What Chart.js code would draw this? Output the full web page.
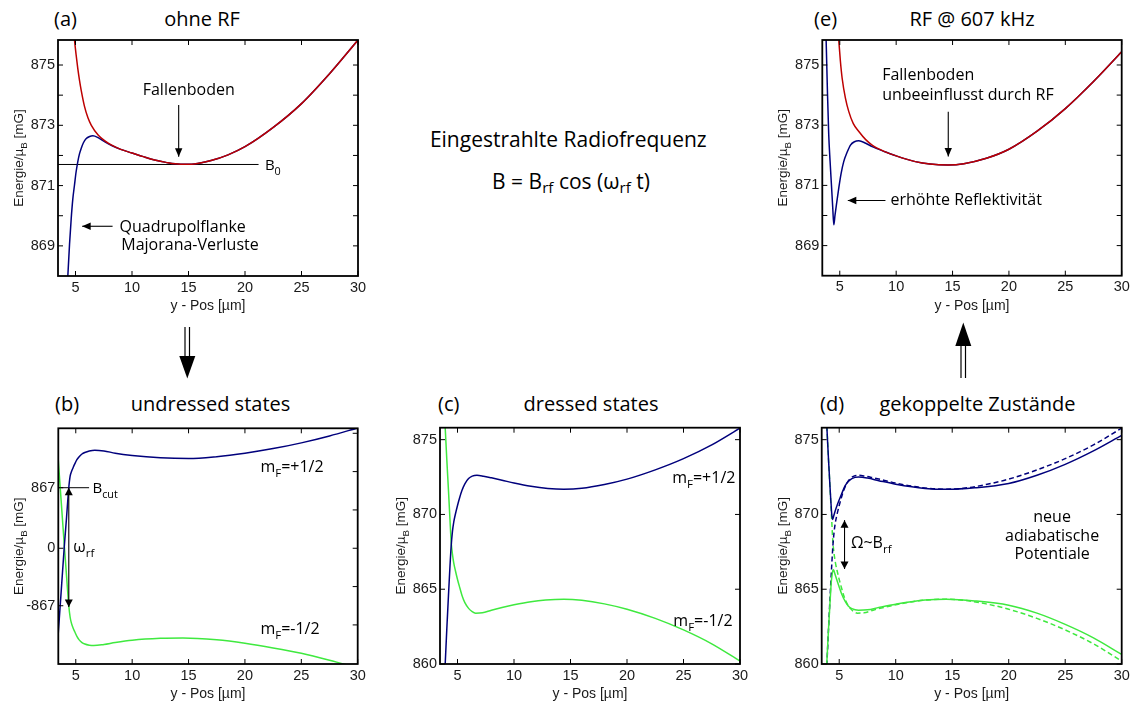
<!DOCTYPE html>
<html><head><meta charset="utf-8">
<script src="https://cdn.jsdelivr.net/npm/chart.js@4.4.0/dist/chart.umd.min.js"></script>
<style>
body{margin:0;width:1133px;height:702px;background:#fff;position:relative;overflow:hidden;font-family:'Open Sans','Noto Sans',sans-serif;color:#000;}
canvas{position:absolute;}
.t{position:absolute;white-space:nowrap;line-height:1;font-size:20px;}
.c{transform:translateX(-50%);}
.sb{font-size:0.72em;position:relative;top:0.28em;}
svg{position:absolute;left:0;top:0;}
</style></head><body>
<div class="t" style="left:54px;top:8.7px">(a)</div>
<div class="t c" style="left:202px;top:8.7px">ohne RF</div>
<div class="t" style="left:814px;top:8.7px">(e)</div>
<div class="t c" style="left:972px;top:8.7px">RF @ 607 kHz</div>
<div class="t" style="left:55px;top:393.7px">(b)</div>
<div class="t c" style="left:210.5px;top:393.7px">undressed states</div>
<div class="t" style="left:438px;top:393.7px">(c)</div>
<div class="t c" style="left:591px;top:393.7px">dressed states</div>
<div class="t" style="left:820px;top:393.7px">(d)</div>
<div class="t c" style="left:977.5px;top:393.7px">gekoppelte Zustände</div>
<div class="t c" style="left:568.3px;top:129px;font-size:21px">Eingestrahlte Radiofrequenz</div>
<div class="t c" style="left:571px;top:170.7px;font-size:21px">B = B<span class="sb">rf</span> cos (ω<span class="sb">rf</span> t)</div>
<svg width="1133" height="702">
<line x1="185" y1="327" x2="185" y2="358" stroke="#000" stroke-width="1.2"/>
<line x1="189.5" y1="327" x2="189.5" y2="358" stroke="#000" stroke-width="1.2"/>
<polygon points="179.3,356 195.3,356 187.3,378.5" fill="#000"/>
<line x1="961" y1="378" x2="961" y2="344" stroke="#000" stroke-width="1.2"/>
<line x1="965.5" y1="378" x2="965.5" y2="344" stroke="#000" stroke-width="1.2"/>
<polygon points="955.3,346 971.3,346 963.3,322.5" fill="#000"/>
</svg>
<script>
// ---------- data ----------
const xTickVals = [5, 10, 15, 20, 25, 30];
const xMin = 3.45, xMax = 30;

// (a) ohne RF
const aRedX = [4.80, 4.91, 5.05, 5.20, 5.35, 5.50, 5.80, 6.10, 6.40, 7.00, 7.60, 8.20];
const aRedY = [876.30, 875.83, 875.35, 874.89, 874.50, 874.17, 873.62, 873.25, 873.00, 872.68, 872.48, 872.34];
const aBlueX = [4.20, 4.32, 4.47, 4.62, 4.76, 4.91, 5.05, 5.20, 5.35, 5.50, 5.70, 5.95, 6.25, 6.54, 7.00, 7.60, 8.20];
const aBlueY = [867.10, 868.00, 869.05, 869.91, 870.55, 871.02, 871.45, 871.79, 872.05, 872.23, 872.42, 872.56, 872.63, 872.65, 872.59, 872.45, 872.33];
const aShareX = [9.0, 10.0, 11.0, 12.0, 13.0, 14.3, 15.5, 17.0, 18.5, 20.0, 22.5, 25.0, 27.5, 30.0];
const aShareY = [872.20, 872.08, 871.96, 871.85, 871.77, 871.71, 871.72, 871.83, 872.02, 872.29, 872.93, 873.72, 874.72, 875.83];
const aB0X = [3.45, 21.2];
const aB0Y = [871.7, 871.7];
const aTickVals = [869, 871, 873, 875];
const aMinorTicks = [869, 870, 871, 872, 873, 874, 875];

// (e) RF @ 607 kHz
const eRedX = [4.80, 4.91, 5.05, 5.21, 5.50, 5.80, 6.20, 6.69, 7.30, 7.87];
const eRedY = [876.40, 875.83, 875.15, 874.56, 873.90, 873.45, 873.05, 872.79, 872.52, 872.34];
const eBlueX = [3.70, 3.79, 3.90, 4.02, 4.14, 4.26, 4.37, 4.47, 4.58, 4.70, 4.91, 5.12, 5.35, 5.65, 5.95, 6.30, 6.69, 7.30, 7.87];
const eBlueY = [877.50, 875.83, 874.20, 872.68, 871.80, 871.02, 870.30, 869.69, 870.02, 870.35, 870.91, 871.40, 871.79, 872.10, 872.34, 872.45, 872.48, 872.40, 872.29];
const eShareX = [9.0, 10.0, 11.7, 13.0, 14.6, 16.0, 18.0, 20.0, 22.5, 25.0, 27.5, 30.0];
const eShareY = [872.12, 871.98, 871.79, 871.71, 871.68, 871.72, 871.90, 872.20, 872.80, 873.55, 874.45, 875.44];

// (b) undressed states (schematic, broken energy axis)
const bBlueX = [3.20, 3.43, 3.70, 3.97, 4.18, 4.38, 4.50, 4.62, 4.76, 4.91, 5.10, 5.30, 5.55, 5.80, 6.20, 6.69, 7.50, 8.50, 10.0, 12.5, 15.0, 17.5, 20.0, 22.5, 25.0, 27.5, 30.0];
const bBlueY = [-3.25, -2.29, -1.15, 0.00, 0.80, 1.58, 1.88, 2.00, 2.10, 2.20, 2.31, 2.39, 2.46, 2.50, 2.54, 2.56, 2.54, 2.48, 2.42, 2.36, 2.34, 2.39, 2.48, 2.60, 2.75, 2.93, 3.14];
const bGreenX = [3.20, 3.43, 3.70, 4.00, 4.20, 4.38, 4.50, 4.62, 4.76, 4.91, 5.10, 5.30, 5.55, 5.80, 6.20, 6.60, 7.50, 8.50, 10.0, 12.5, 14.5, 17.5, 20.0, 22.5, 25.0, 27.5, 30.0];
const bGreenY = [3.30, 2.37, 1.25, 0.00, -0.80, -1.50, -1.80, -1.96, -2.08, -2.18, -2.30, -2.39, -2.46, -2.50, -2.53, -2.54, -2.51, -2.46, -2.40, -2.35, -2.34, -2.39, -2.48, -2.60, -2.74, -2.92, -3.12];
const bCutX = [3.45, 6.18];
const bCutY = [1.58, 1.58];
const bTickVals = [1.58, 0, -1.5];
const bTickLabels = ['867', '0', '-867'];
const bRightTicks = [-2, -1, 0, 1, 2, 3];

// (c) dressed states
const cBlueX = [3.80, 3.91, 4.05, 4.20, 4.33, 4.44, 4.55, 4.67, 4.80, 5.00, 5.20, 5.39, 5.65, 5.98, 6.30, 6.72, 7.30, 8.00, 8.94, 10.0, 11.5, 13.0, 14.4, 16.0, 18.0, 20.0, 22.5, 25.0, 27.5, 30.0];
const cBlueY = [858.30, 860.00, 862.30, 864.60, 866.50, 867.90, 868.85, 869.50, 869.98, 870.60, 871.15, 871.60, 872.05, 872.40, 872.56, 872.62, 872.56, 872.45, 872.29, 872.10, 871.88, 871.74, 871.69, 871.75, 872.00, 872.36, 872.98, 873.73, 874.65, 875.77];
const cGreenX = [3.78, 3.91, 4.05, 4.20, 4.33, 4.44, 4.55, 4.67, 4.81, 5.00, 5.20, 5.39, 5.65, 5.98, 6.30, 6.60, 7.20, 8.00, 8.94, 10.0, 11.5, 12.8, 14.4, 16.0, 18.0, 20.0, 22.5, 25.0, 27.5, 30.0];
const cGreenY = [877.50, 875.80, 873.70, 871.60, 869.70, 868.15, 867.35, 866.75, 866.25, 865.65, 865.10, 864.60, 864.10, 863.72, 863.50, 863.40, 863.42, 863.60, 863.78, 863.96, 864.17, 864.28, 864.33, 864.26, 864.02, 863.66, 863.05, 862.28, 861.35, 860.20];
const cdTickVals = [860, 865, 870, 875];

// (d) gekoppelte Zustände (solid = adiabatic; dashed = dressed states of (c))
const dBlueX = [3.80, 3.91, 4.05, 4.20, 4.30, 4.36, 4.41, 4.47, 4.55, 4.65, 4.80, 4.94, 5.20, 5.53, 5.80, 6.12, 6.71, 7.50, 8.50, 10.0, 12.6, 14.5, 17.0, 20.0, 22.5, 25.0, 27.5, 30.0];
const dBlueY = [877.30, 875.80, 873.70, 871.65, 870.40, 869.85, 869.67, 869.78, 870.00, 870.25, 870.58, 870.86, 871.35, 871.92, 872.20, 872.40, 872.50, 872.43, 872.26, 872.02, 871.74, 871.68, 871.78, 872.07, 872.62, 873.35, 874.25, 875.29];
const dGreenX = [3.80, 3.91, 4.05, 4.20, 4.30, 4.38, 4.44, 4.49, 4.55, 4.65, 4.80, 4.94, 5.20, 5.53, 5.80, 6.12, 6.71, 7.50, 8.50, 10.0, 12.6, 14.5, 17.0, 20.0, 22.5, 25.0, 27.5, 30.0];
const dGreenY = [858.60, 860.20, 862.30, 864.30, 865.50, 866.00, 866.25, 866.30, 866.20, 865.95, 865.60, 865.28, 864.72, 864.18, 863.88, 863.70, 863.60, 863.62, 863.78, 864.00, 864.28, 864.33, 864.22, 863.93, 863.40, 862.65, 861.75, 860.64];

// ---------- styles ----------
const RED = '#bd0000', BLUE = '#00007c', GREEN = '#3fe93f', BLACK = '#000';
const FT = "'Open Sans','Noto Sans',sans-serif";
const FA = "'Liberation Sans',Arial,sans-serif";
const TICK_SIZE = 14.5;

function pts(xs, ys) { return xs.map((x, i) => ({x: x, y: ys[i]})); }
function line(xs, ys, color, dash, w) {
  return {data: pts(xs, ys), borderColor: color, borderWidth: w || 1.5, pointRadius: 0,
    cubicInterpolationMode: 'monotone', fill: false, borderDash: dash || []};
}
function straight(xs, ys) {
  return {data: pts(xs, ys), borderColor: BLACK, borderWidth: 1, pointRadius: 0, tension: 0, fill: false};
}

function setF(ctx, size, fam) { ctx.font = size + 'px ' + fam; }
function richW(ctx, parts, size, fam) {
  let w = 0;
  for (const p of parts) { setF(ctx, p[1] ? size * 0.72 : size, fam); w += ctx.measureText(p[0]).width; }
  return w;
}
function rich(ctx, parts, x, y, size, fam, align) {
  const w = richW(ctx, parts, size, fam);
  let cx = align === 'center' ? x - w / 2 : (align === 'right' ? x - w : x);
  ctx.textAlign = 'left'; ctx.textBaseline = 'alphabetic';
  for (const p of parts) {
    setF(ctx, p[1] ? size * 0.72 : size, fam);
    ctx.fillText(p[0], cx, p[1] ? y + size * 0.3 : y);
    cx += ctx.measureText(p[0]).width;
  }
}
function head(ctx, x1, y1, x2, y2, len, hw) {
  const a = Math.atan2(y2 - y1, x2 - x1);
  ctx.beginPath();
  ctx.moveTo(x2, y2);
  ctx.lineTo(x2 - len * Math.cos(a) + hw * Math.sin(a), y2 - len * Math.sin(a) - hw * Math.cos(a));
  ctx.lineTo(x2 - len * Math.cos(a) - hw * Math.sin(a), y2 - len * Math.sin(a) + hw * Math.cos(a));
  ctx.closePath(); ctx.fill();
}
function arrow(ctx, x1, y1, x2, y2, len, hw, both) {
  len = len || 8.5; hw = hw || 3.7;
  ctx.beginPath(); ctx.moveTo(x1, y1); ctx.lineTo(x2, y2); ctx.lineWidth = 1.1; ctx.stroke();
  head(ctx, x1, y1, x2, y2, len, hw);
  if (both) head(ctx, x2, y2, x1, y1, len, hw);
}

// per-chart frame settings (kept outside Chart.js options so functions are not treated as scriptable)
const frames = new Map();

const framePlugin = {
  id: 'frame',
  afterDatasetsDraw(chart) {
    const o = frames.get(chart.canvas);
    if (!o) return;
    const ctx = chart.ctx, a = chart.chartArea, xs = chart.scales.x, ys = chart.scales.y;
    const px = v => xs.getPixelForValue(v), py = v => ys.getPixelForValue(v);
    ctx.save();
    ctx.strokeStyle = BLACK; ctx.fillStyle = '#000'; ctx.lineWidth = 1;
    const L = 5;
    ctx.beginPath();
    xTickVals.forEach(v => { const p = px(v); ctx.moveTo(p, a.bottom); ctx.lineTo(p, a.bottom - L); ctx.moveTo(p, a.top); ctx.lineTo(p, a.top + L); });
    o.yLeft.forEach(v => { const p = py(v); ctx.moveTo(a.left, p); ctx.lineTo(a.left + L, p); });
    o.yRight.forEach(v => { const p = py(v); ctx.moveTo(a.right, p); ctx.lineTo(a.right - L, p); });
    ctx.stroke();
    ctx.lineWidth = 1.8;
    ctx.strokeRect(a.left, a.top, a.right - a.left, a.bottom - a.top);
    ctx.save();
    ctx.translate(a.left - 40, (a.top + a.bottom) / 2);
    ctx.rotate(-Math.PI / 2);
    ctx.fillStyle = '#1a1a1a';
    rich(ctx, [['Energie/µ', 0], ['B', 1], [' [mG]', 0]], 0, 5, 13.5, FA, 'center');
    ctx.restore();
    ctx.fillStyle = '#000'; ctx.strokeStyle = BLACK;
    o.annotate(ctx, px, py);
    ctx.restore();
  }
};

function makeChart(box, plot, ymin, ymax, datasets, yTicks, yLabels, frame) {
  const cv = document.createElement('canvas');
  cv.width = box.w; cv.height = box.h;
  cv.style.left = box.left + 'px'; cv.style.top = box.top + 'px';
  document.body.appendChild(cv);
  frames.set(cv, frame);
  const xh = 38.4;
  const pad = {left: 0, top: plot.t - box.top, right: box.left + box.w - plot.r, bottom: box.top + box.h - plot.b - xh};
  const yw = plot.l - box.left;
  new Chart(cv.getContext('2d'), {
    type: 'line',
    data: {datasets: datasets},
    plugins: [framePlugin],
    options: {
      responsive: false, animation: false, devicePixelRatio: 1,
      layout: {padding: pad},
      plugins: {legend: {display: false}, tooltip: {enabled: false}},
      scales: {
        x: {type: 'linear', min: xMin, max: xMax,
          grid: {display: false, drawTicks: false}, border: {display: false},
          afterBuildTicks: s => { s.ticks = xTickVals.map(v => ({value: v})); },
          afterFit: s => { s.height = xh; s.paddingLeft = 0; s.paddingRight = 0; },
          ticks: {autoSkip: false, maxRotation: 0, padding: 3, color: '#1a1a1a', font: {family: FA, size: TICK_SIZE}},
          title: {display: true, text: 'y - Pos [µm]', color: '#1a1a1a', font: {family: FA, size: 14}, padding: {top: 0, bottom: 0}}
        },
        y: {type: 'linear', min: ymin, max: ymax,
          grid: {display: false, drawTicks: false}, border: {display: false},
          afterBuildTicks: s => { s.ticks = yTicks.map(v => ({value: v})); },
          afterFit: s => { s.width = yw; s.paddingTop = 0; s.paddingBottom = 0; },
          ticks: {autoSkip: false, padding: 3, color: '#1a1a1a', font: {family: FA, size: TICK_SIZE},
            callback: (v, i) => yLabels[i]}
        }
      }
    }
  });
}

// (a)
makeChart({left: 0, top: 30, w: 370, h: 290}, {l: 58, r: 358, t: 40, b: 276}, 868, 875.83,
  [line(aRedX.concat(aShareX), aRedY.concat(aShareY), RED),
   line(aBlueX.concat(aShareX), aBlueY.concat(aShareY), BLUE),
   straight(aB0X, aB0Y)],
  aTickVals, aTickVals.map(String),
  {yLeft: aMinorTicks, yRight: aMinorTicks, annotate: (ctx, px, py) => {
    setF(ctx, 16, FT); ctx.textAlign = 'center'; ctx.textBaseline = 'alphabetic';
    ctx.fillText('Fallenboden', px(15.02), py(874.0));
    arrow(ctx, px(14.13), py(873.67), px(14.13), py(871.96));
    rich(ctx, [['B', 0], ['0', 1]], px(21.76), py(871.51), 15, FT, 'left');
    arrow(ctx, px(8.28), py(869.65), px(5.59), py(869.65));
    setF(ctx, 16, FT); ctx.textAlign = 'left';
    ctx.fillText('Quadrupolflanke', px(8.9), py(869.47));
    ctx.fillText('Majorana-Verluste', px(9.05), py(868.86));
  }});

// (e)
makeChart({left: 770, top: 30, w: 362, h: 290}, {l: 822.3, r: 1121.7, t: 40, b: 275.7}, 868, 875.83,
  [line(eRedX.concat(eShareX), eRedY.concat(eShareY), RED),
   line(eBlueX.concat(eShareX), eBlueY.concat(eShareY), BLUE)],
  aTickVals, aTickVals.map(String),
  {yLeft: aMinorTicks, yRight: aMinorTicks, annotate: (ctx, px, py) => {
    setF(ctx, 16, FT); ctx.textAlign = 'left'; ctx.textBaseline = 'alphabetic';
    ctx.fillText('Fallenboden', px(8.76), py(874.50));
    ctx.fillText('unbeeinflusst durch RF', px(8.76), py(873.84));
    arrow(ctx, px(14.62), py(873.45), px(14.62), py(871.96));
    arrow(ctx, px(9.05), py(870.5), px(5.71), py(870.5));
    setF(ctx, 16, FT); ctx.textAlign = 'left';
    ctx.fillText('erhöhte Reflektivität', px(9.5), py(870.34));
  }});

// (b)
makeChart({left: 0, top: 418, w: 370, h: 284}, {l: 58.3, r: 357.7, t: 428.3, b: 664}, -3.02, 3.13,
  [line(bBlueX, bBlueY, BLUE), line(bGreenX, bGreenY, GREEN), straight(bCutX, bCutY)],
  bTickVals, bTickLabels,
  {yLeft: bTickVals, yRight: bRightTicks, annotate: (ctx, px, py) => {
    rich(ctx, [['B', 0], ['cut', 1]], px(6.48), py(1.436), 15, FT, 'left');
    arrow(ctx, px(4.38), py(1.58), px(4.38), py(-1.53), 7.5, 4, true);
    rich(ctx, [['ω', 0], ['rf', 1]], px(4.78), py(-0.09), 16, FT, 'left');
    rich(ctx, [['m', 0], ['F', 1], ['=+1/2', 0]], px(21.37), py(1.98), 16, FT, 'left');
    rich(ctx, [['m', 0], ['F', 1], ['=-1/2', 0]], px(21.37), py(-2.245), 16, FT, 'left');
  }});

// (c)
makeChart({left: 385, top: 418, w: 365, h: 284}, {l: 440, r: 740, t: 427.7, b: 664}, 860, 875.8,
  [line(cBlueX, cBlueY, BLUE), line(cGreenX, cGreenY, GREEN)],
  cdTickVals, cdTickVals.map(String),
  {yLeft: cdTickVals, yRight: cdTickVals, annotate: (ctx, px, py) => {
    rich(ctx, [['m', 0], ['F', 1], ['=+1/2', 0]], px(24.0), py(872.07), 16, FT, 'left');
    rich(ctx, [['m', 0], ['F', 1], ['=-1/2', 0]], px(24.1), py(862.51), 16, FT, 'left');
  }});

// (d): solid adiabatic curves listed first so they are drawn on top of the dashed ones
makeChart({left: 770, top: 418, w: 362, h: 284}, {l: 821.7, r: 1121.7, t: 427.7, b: 664}, 860, 875.8,
  [line(dBlueX, dBlueY, BLUE), line(dGreenX, dGreenY, GREEN),
   line(cBlueX, cBlueY, BLUE, [5, 3]), line(cGreenX, cGreenY, GREEN, [5, 3])],
  cdTickVals, cdTickVals.map(String),
  {yLeft: cdTickVals, yRight: cdTickVals, annotate: (ctx, px, py) => {
    arrow(ctx, px(5.47), py(869.62), px(5.47), py(866.35), 7.5, 4, true);
    rich(ctx, [['Ω~B', 0], ['rf', 1]], px(6.04), py(867.73), 16, FT, 'left');
    setF(ctx, 16, FT); ctx.textAlign = 'center'; ctx.textBaseline = 'alphabetic';
    ctx.fillText('neue', px(23.84), py(869.51));
    ctx.fillText('adiabatische', px(23.84), py(868.24));
    ctx.fillText('Potentiale', px(23.84), py(867.02));
  }});
</script>
</body></html>
